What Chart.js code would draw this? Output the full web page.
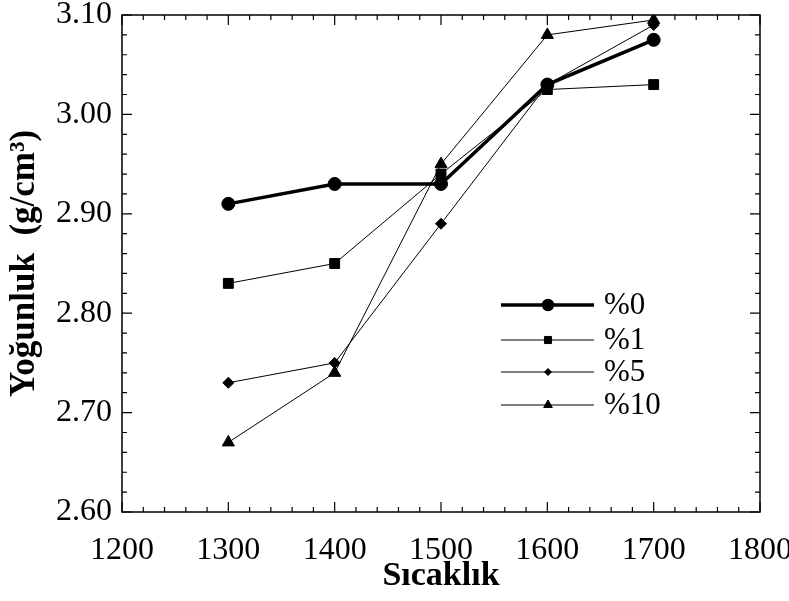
<!DOCTYPE html>
<html>
<head>
<meta charset="utf-8">
<script src="https://cdn.jsdelivr.net/npm/chart.js@4.4.1/dist/chart.umd.min.js"></script>
<style>
  html, body { margin: 0; padding: 0; background: #fff; }
  #wrap { width: 789px; height: 601px; }
</style>
</head>
<body>
<div id="wrap"><canvas id="densityChart" width="789" height="601"></canvas></div>
<script>
// veri
const temps = [1300, 1400, 1500, 1600, 1700];
const seriesNames = ['%0', '%1', '%5', '%10'];
const density0 = [2.91, 2.93, 2.93, 3.03, 3.075];
const density1 = [2.83, 2.85, 2.94, 3.025, 3.03];
const density5 = [2.73, 2.75, 2.89, 3.03, 3.09];
const density10 = [2.67, 2.74, 2.95, 3.08, 3.095];
const xTicks = [1200, 1300, 1400, 1500, 1600, 1700, 1800];
const yTicks = [2.60, 2.70, 2.80, 2.90, 3.00, 3.10];

const serif = "'Liberation Serif', 'Times New Roman', serif";

const styles = [
  { width: 3.5, point: 'circle', radius: 6.5 },
  { width: 1, point: 'rect', radius: 7 },
  { width: 1, point: 'rectRot', radius: 5.5 },
  { width: 1, point: 'triangle', radius: 7 }
];

const toPoints = (arr) => arr.map((v, i) => ({ x: temps[i], y: v }));

const datasets = [density0, density1, density5, density10].map((d, i) => ({
  label: seriesNames[i],
  data: toPoints(d),
  borderColor: '#000',
  backgroundColor: '#000',
  borderWidth: styles[i].width,
  pointStyle: styles[i].point,
  pointRadius: styles[i].radius,
  pointBorderWidth: 1,
  tension: 0
}));

// cerceve ve ic tikler
const frameTicks = {
  id: 'frameTicks',
  afterDraw(chart) {
    const { ctx, chartArea: a, scales: { x, y } } = chart;
    ctx.save();
    ctx.strokeStyle = '#000';
    ctx.lineWidth = 1.5;
    ctx.strokeRect(a.left, a.top, a.right - a.left, a.bottom - a.top);
    ctx.lineWidth = 1.2;
    ctx.beginPath();
    for (let v = 1200; v <= 1800; v += 20) {
      const px = x.getPixelForValue(v);
      const len = v % 100 === 0 ? 10 : 5;
      ctx.moveTo(px, a.bottom); ctx.lineTo(px, a.bottom - len);
      ctx.moveTo(px, a.top); ctx.lineTo(px, a.top + len);
    }
    for (let k = 0; k <= 25; k++) {
      const py = y.getPixelForValue(2.6 + k * 0.02);
      const len = k % 5 === 0 ? 10 : 5;
      ctx.moveTo(a.left, py); ctx.lineTo(a.left + len, py);
      ctx.moveTo(a.right, py); ctx.lineTo(a.right - len, py);
    }
    ctx.stroke();
    ctx.restore();
  }
};

// grafik icindeki lejant
const innerLegend = {
  id: 'innerLegend',
  afterDraw(chart) {
    const { ctx } = chart;
    const rows = [305, 340, 372, 405];
    ctx.save();
    chart.data.datasets.forEach((ds, i) => {
      const yy = rows[i];
      ctx.strokeStyle = '#000';
      ctx.lineWidth = ds.borderWidth;
      ctx.beginPath();
      ctx.moveTo(501, yy); ctx.lineTo(594, yy);
      ctx.stroke();
      ctx.fillStyle = '#000';
      Chart.helpers.drawPoint(ctx, { pointStyle: ds.pointStyle, radius: ds.pointRadius - 2, borderWidth: 1 }, 548, yy);
      ctx.fillStyle = '#000';
      ctx.font = '31px ' + serif;
      ctx.textBaseline = 'middle';
      ctx.textAlign = 'left';
      ctx.fillText(ds.label, 604, yy + 1);
    });
    ctx.restore();
  }
};

new Chart(document.getElementById('densityChart'), {
  type: 'line',
  data: { datasets },
  options: {
    responsive: false,
    animation: false,
    layout: { padding: { left: 0, right: 29, top: 15, bottom: 0 } },
    plugins: { legend: { display: false }, tooltip: { enabled: false } },
    scales: {
      x: {
        type: 'linear',
        min: 1200,
        max: 1800,
        afterBuildTicks: (s) => { s.ticks = xTicks.map(v => ({ value: v })); },
        afterFit: (s) => { s.height = 89; s.paddingLeft = 0; s.paddingRight = 0; },
        grid: { display: false, drawTicks: false },
        border: { display: false },
        ticks: {
          color: '#000',
          padding: 19,
          font: { family: serif, size: 32 },
          callback: (v) => String(v)
        },
        title: {
          display: true,
          text: 'Sıcaklık',
          color: '#000',
          padding: { top: 2 },
          font: { family: serif, size: 34, weight: 'bold' }
        }
      },
      y: {
        type: 'linear',
        min: 2.6,
        max: 3.1,
        afterBuildTicks: (s) => { s.ticks = yTicks.map(v => ({ value: v })); },
        afterFit: (s) => { s.width = 122; s.paddingTop = 0; s.paddingBottom = 0; },
        grid: { display: false, drawTicks: false },
        border: { display: false },
        ticks: {
          color: '#000',
          padding: 10,
          font: { family: serif, size: 32 },
          callback: (v) => v.toFixed(2)
        },
        title: {
          display: true,
          text: 'Yoğunluk  (g/cm³)',
          color: '#000',
          padding: { bottom: 0 },
          font: { family: serif, size: 35, weight: 'bold' }
        }
      }
    }
  },
  plugins: [frameTicks, innerLegend]
});
</script>
</body>
</html>
